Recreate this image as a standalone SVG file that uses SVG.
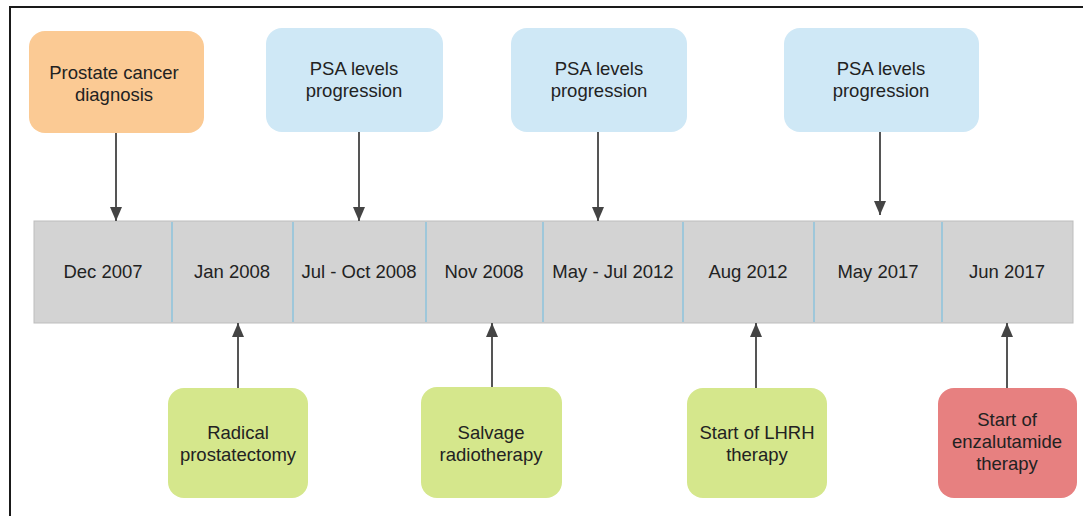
<svg xmlns="http://www.w3.org/2000/svg" width="1083" height="516" viewBox="0 0 1083 516">
  <style>
    text { font-family: "Liberation Sans", Arial, sans-serif; font-size: 18.5px; fill: #222; text-anchor: middle; }
    .box { rx: 16; ry: 16; }
    .orange { fill: #fbca94; }
    .blue { fill: #cfe8f6; }
    .green { fill: #d5e78c; }
    .red { fill: #e78080; }
    .seg { fill: #d3d3d3; }
    .divider { stroke: #8cc3dc; stroke-width: 1.5; }
    .conn { stroke: #555; stroke-width: 2; fill: none; marker-end: url(#arrow); }
  </style>
  <defs>
    <marker id="arrow" viewBox="0 0 14 12" refX="14" refY="6" markerWidth="14" markerHeight="12" markerUnits="userSpaceOnUse" orient="auto">
      <path d="M0,0 L14,6 L0,12 Z" fill="#444"/>
    </marker>
  </defs>

  <rect width="1083" height="516" fill="#ffffff"/>
  <!-- outer frame -->
  <path d="M10,516 L10,7 L1083,7" fill="none" stroke="#1a1a1a" stroke-width="2"/>

  <!-- timeline bar -->
  <g id="timeline">
    <rect x="34" y="221" width="1039" height="102" class="seg" stroke="#bdbdbd" stroke-width="1"/>
    <line x1="172" y1="222" x2="172" y2="322" class="divider"/>
    <line x1="293" y1="222" x2="293" y2="322" class="divider"/>
    <line x1="426" y1="222" x2="426" y2="322" class="divider"/>
    <line x1="543" y1="222" x2="543" y2="322" class="divider"/>
    <line x1="683" y1="222" x2="683" y2="322" class="divider"/>
    <line x1="814" y1="222" x2="814" y2="322" class="divider"/>
    <line x1="942" y1="222" x2="942" y2="322" class="divider"/>
    <text x="103" y="278">Dec 2007</text>
    <text x="232" y="278">Jan 2008</text>
    <text x="359" y="278">Jul - Oct 2008</text>
    <text x="484" y="278">Nov 2008</text>
    <text x="613" y="278">May - Jul 2012</text>
    <text x="748" y="278">Aug 2012</text>
    <text x="878" y="278">May 2017</text>
    <text x="1007" y="278">Jun 2017</text>
  </g>

  <!-- event nodes above the bar -->
  <g id="diagnosis">
    <rect x="29" y="31" width="175" height="102" class="box orange"/>
    <text x="114" y="79">Prostate cancer</text>
    <text x="114" y="101">diagnosis</text>
  </g>
  <g id="psa-2008">
    <rect x="266" y="28" width="177" height="104" class="box blue"/>
    <text x="354" y="75">PSA levels</text>
    <text x="354" y="97">progression</text>
  </g>
  <g id="psa-2012">
    <rect x="511" y="28" width="176" height="104" class="box blue"/>
    <text x="599" y="75">PSA levels</text>
    <text x="599" y="97">progression</text>
  </g>
  <g id="psa-2017">
    <rect x="784" y="28" width="195" height="104" class="box blue"/>
    <text x="881" y="75">PSA levels</text>
    <text x="881" y="97">progression</text>
  </g>

  <!-- event nodes below the bar -->
  <g id="prostatectomy">
    <rect x="168" y="388" width="140" height="110" class="box green"/>
    <text x="238" y="439">Radical</text>
    <text x="238" y="461">prostatectomy</text>
  </g>
  <g id="radiotherapy">
    <rect x="421" y="387" width="141" height="111" class="box green"/>
    <text x="491" y="439">Salvage</text>
    <text x="491" y="461">radiotherapy</text>
  </g>
  <g id="lhrh">
    <rect x="687" y="388" width="140" height="110" class="box green"/>
    <text x="757" y="439">Start of LHRH</text>
    <text x="757" y="461">therapy</text>
  </g>
  <g id="enzalutamide">
    <rect x="938" y="388" width="139" height="110" class="box red"/>
    <text x="1007" y="426">Start of</text>
    <text x="1007" y="448">enzalutamide</text>
    <text x="1007" y="470">therapy</text>
  </g>

  <!-- connectors -->
  <g id="connectors">
    <line x1="116" y1="133" x2="116" y2="221" class="conn"/>
    <line x1="359" y1="132" x2="359" y2="221" class="conn"/>
    <line x1="598" y1="132" x2="598" y2="221" class="conn"/>
    <line x1="880" y1="132" x2="880" y2="215" class="conn"/>
    <line x1="238" y1="388" x2="238" y2="323" class="conn"/>
    <line x1="492" y1="387" x2="492" y2="323" class="conn"/>
    <line x1="756" y1="388" x2="756" y2="323" class="conn"/>
    <line x1="1007" y1="388" x2="1007" y2="323" class="conn"/>
  </g>
</svg>
